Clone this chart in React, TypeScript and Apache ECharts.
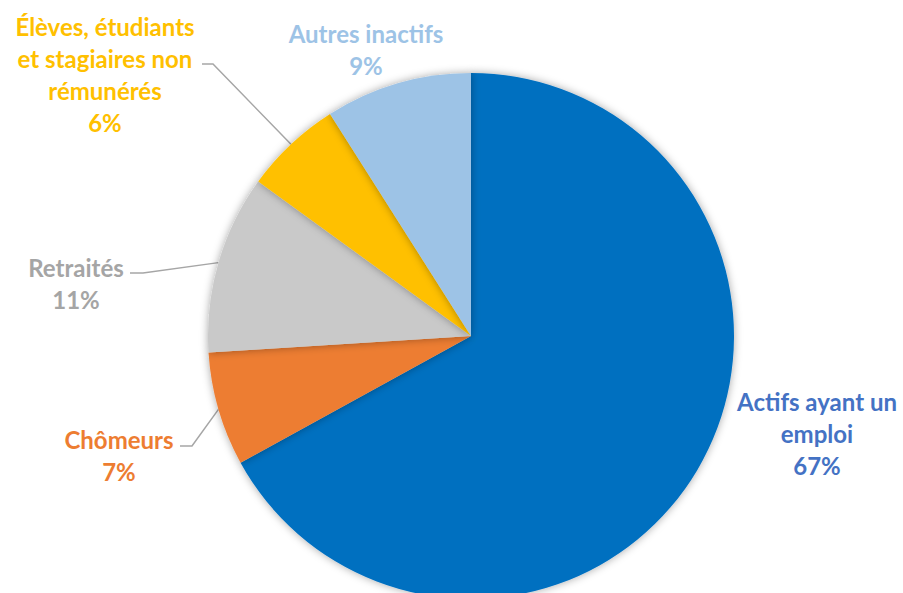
import React, { useEffect, useRef } from "react";
import * as echarts from "echarts";

const categories = [
  "Actifs ayant un\nemploi",
  "Chômeurs",
  "Retraités",
  "Élèves, étudiants\net stagiaires non\nrémunérés",
  "Autres inactifs",
];
const values = [67, 7, 11, 6, 9];
const sliceColors = ["#0070C0", "#ED7D31", "#C9C9C9", "#FFC000", "#9DC3E6"];
const labelColors = ["#4472C4", "#ED7D31", "#A5A5A5", "#FFC000", "#9DC3E6"];

// label anchor (center of text block) and leader elbow/end points
const labelPos: { x: number; y: number; line?: number[][] }[] = [
  { x: 817, y: 433 },
  { x: 119, y: 455, line: [[192, 446], [180, 446]] },
  { x: 76, y: 283, line: [[143, 273], [130, 273]] },
  { x: 105, y: 74, line: [[213, 64], [202, 64]] },
  { x: 366, y: 49 },
];

export default function App() {
  const ref = useRef<HTMLDivElement>(null);
  useEffect(() => {
    if (!ref.current) return;
    const chart = echarts.init(ref.current, undefined, { renderer: "svg" });
    chart.setOption({
      animation: false,
      backgroundColor: "#ffffff",
      series: [
        {
          type: "pie",
          center: [471, 336],
          radius: 263,
          startAngle: 90,
          clockwise: true,
          avoidLabelOverlap: false,
          itemStyle: {
            shadowBlur: 8,
            shadowColor: "rgba(0,0,0,0.35)",
          },
          label: {
            show: true,
            position: "outside",
            fontFamily: "Lato",
            fontWeight: "bold",
            fontSize: 24,
            lineHeight: 32,
            align: "center",
            formatter: (p: any) => `${p.name}\n${p.value}%`,
          },
          labelLine: {
            show: true,
            lineStyle: { color: "#A6A6A6", width: 1.5 },
          },
          labelLayout: (params: any) => {
            const lp = labelPos[params.dataIndex];
            const res: any = {
              x: lp.x,
              y: lp.y,
              align: "center",
              verticalAlign: "middle",
            };
            if (lp.line && params.labelLinePoints) {
              res.labelLinePoints = [params.labelLinePoints[0], ...lp.line];
            }
            return res;
          },
          data: categories.map((name, i) => ({
            name,
            value: values[i],
            itemStyle: { color: sliceColors[i] },
            label: { color: labelColors[i] },
            labelLine: { show: !!labelPos[i].line },
          })),
        },
      ],
    });
    return () => chart.dispose();
  }, []);
  return (
    <div
      ref={ref}
      style={{ position: "absolute", left: 0, top: 0, width: 903, height: 593 }}
    />
  );
}
